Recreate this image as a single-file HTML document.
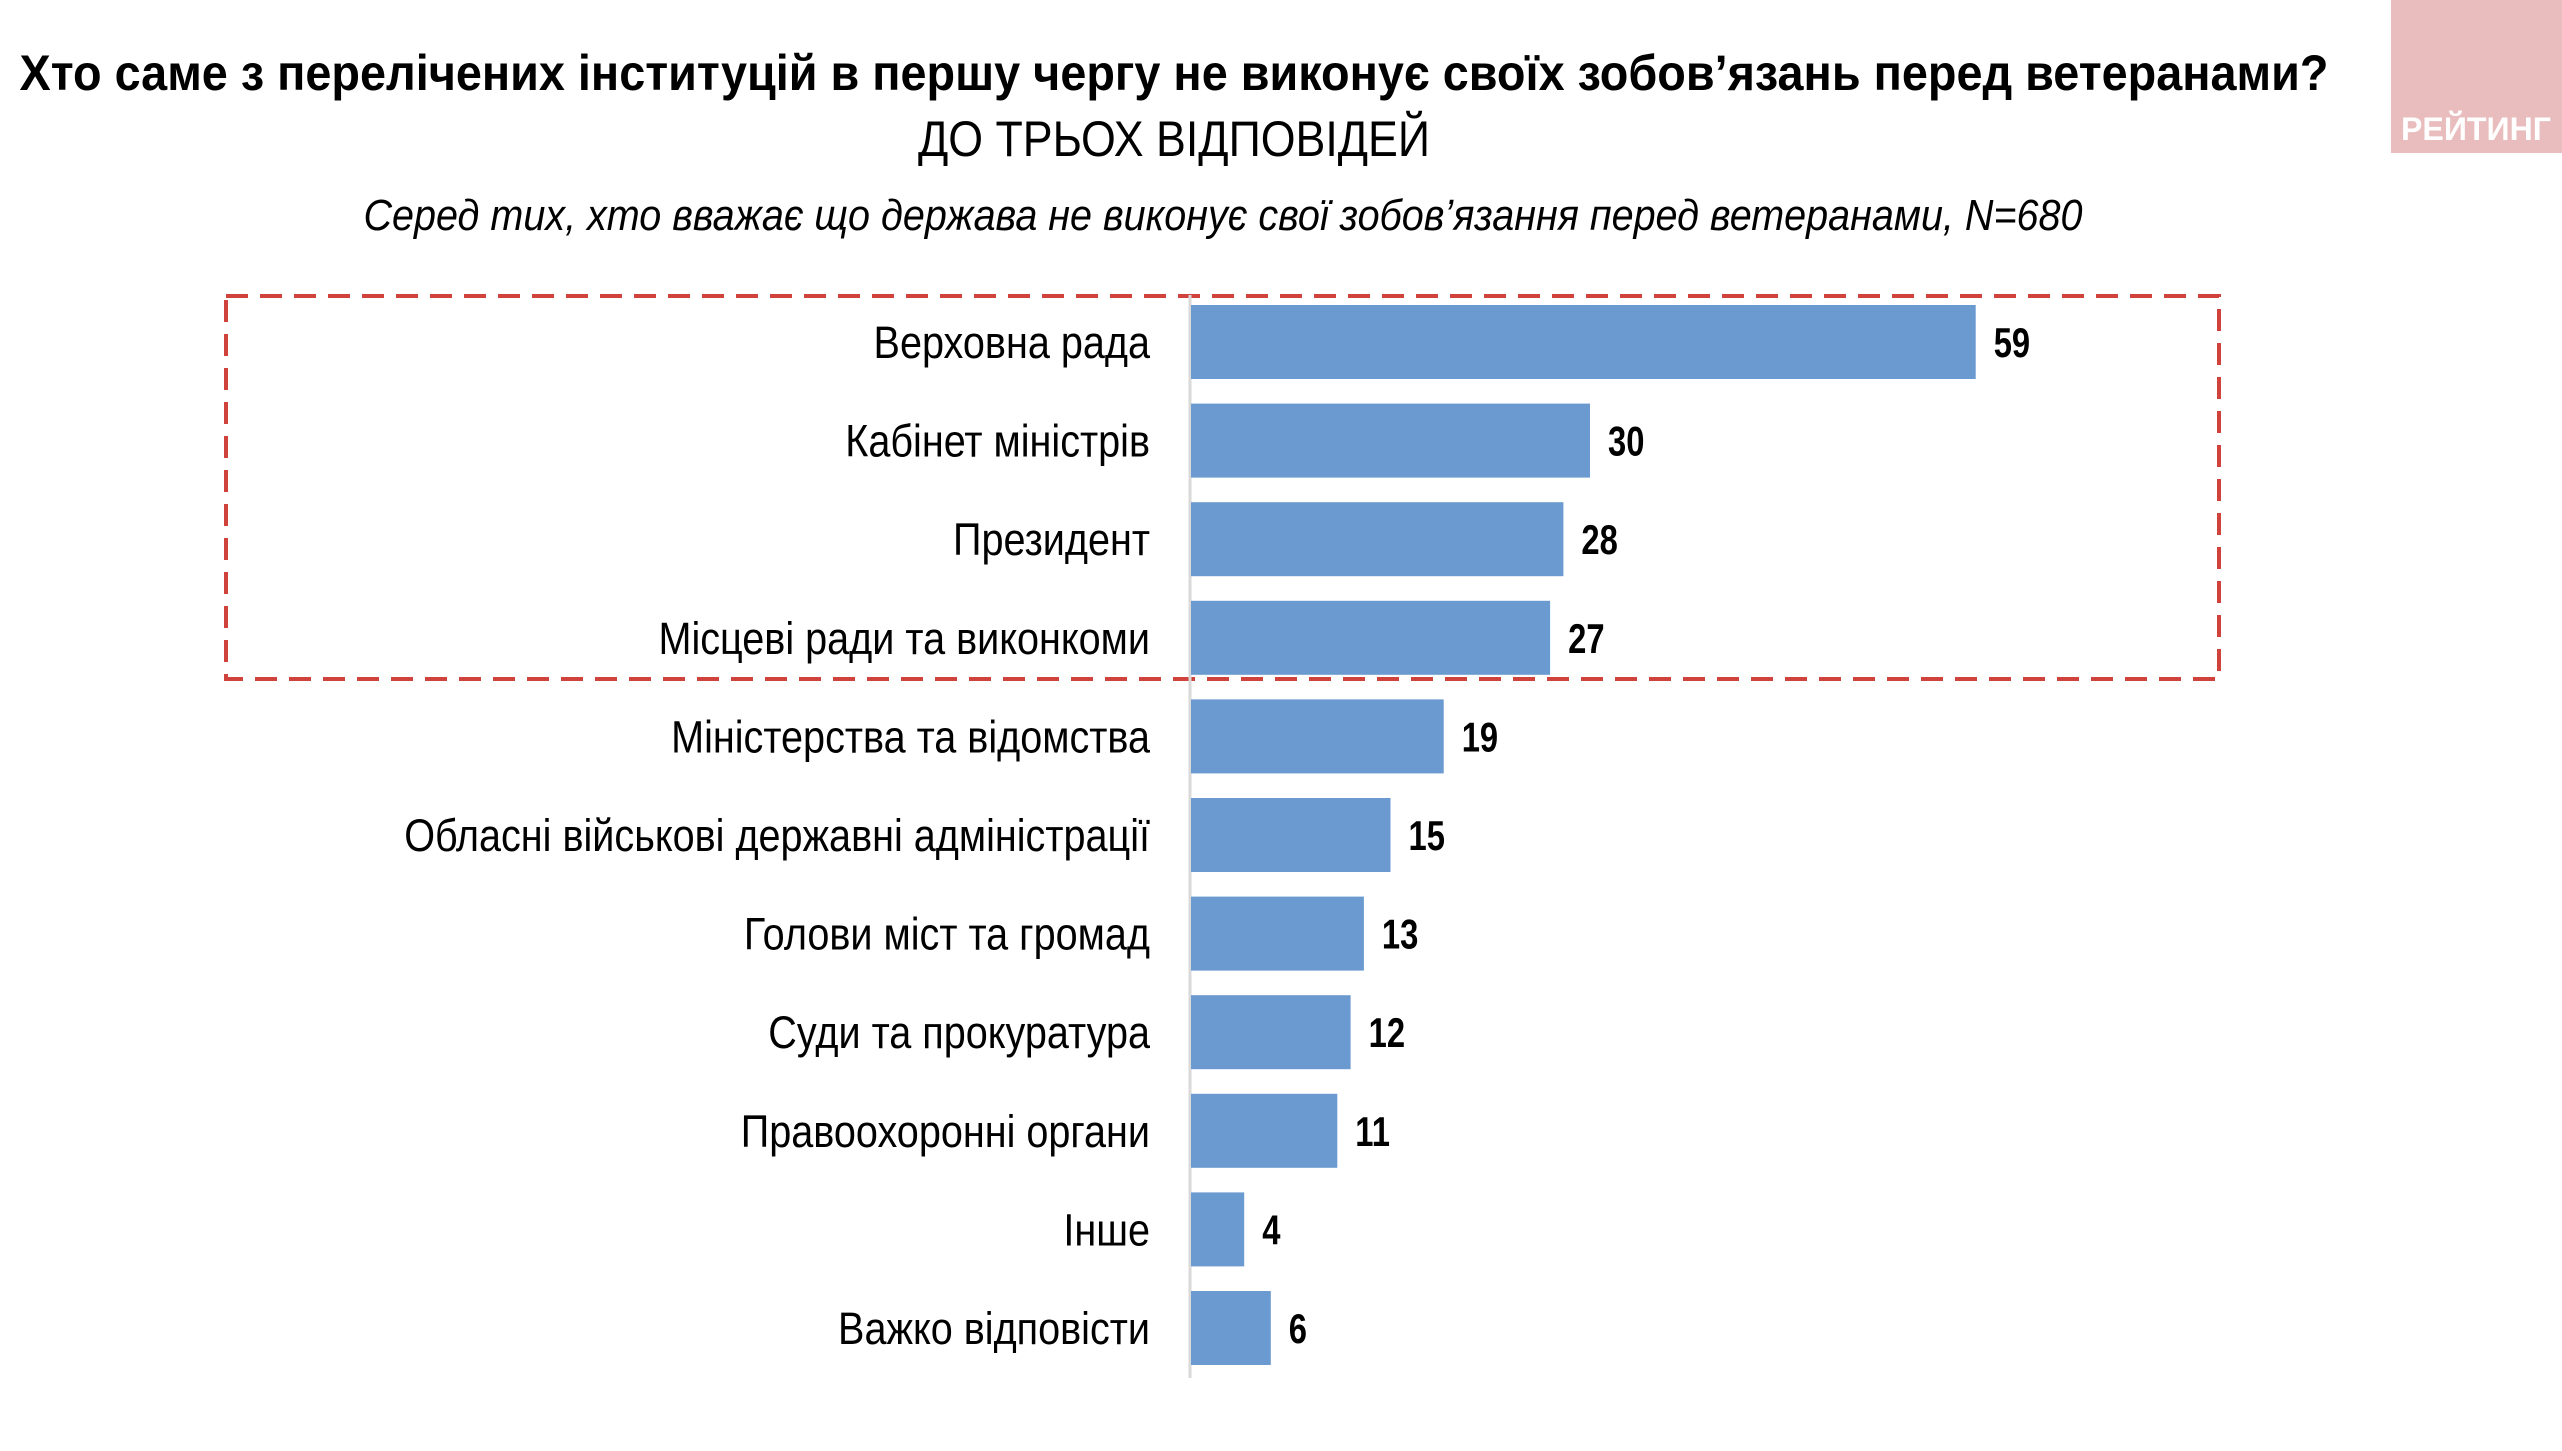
<!DOCTYPE html>
<html><head><meta charset="utf-8"><style>
html,body{margin:0;padding:0;background:#fff;}
svg{display:block;}
text{font-family:"Liberation Sans Narrow","Liberation Sans","Noto Sans CJK SC",sans-serif;}
</style></head><body>
<svg id="chart" width="2562" height="1451" viewBox="0 0 2562 1451" xmlns="http://www.w3.org/2000/svg">
<rect x="2391" y="0" width="171" height="153" fill="#e9bdbd"/>
<text x="2476" y="140" text-anchor="middle" font-size="32" font-weight="bold" fill="#fff" textLength="150" lengthAdjust="spacingAndGlyphs">РЕЙТИНГ</text>
<text x="1174" y="90" text-anchor="middle" font-size="50" font-weight="bold" textLength="2309" lengthAdjust="spacingAndGlyphs">Хто саме з перелічених інституцій в першу чергу не виконує своїх зобов’язань перед ветеранами?</text>
<text x="1174" y="156" text-anchor="middle" font-size="50" textLength="512" lengthAdjust="spacingAndGlyphs">ДО ТРЬОХ ВІДПОВІДЕЙ</text>
<text x="1223" y="230" text-anchor="middle" font-size="44" font-style="italic" textLength="1719" lengthAdjust="spacingAndGlyphs">Серед тих, хто вважає що держава не виконує свої зобов’язання перед ветеранами, N=680</text>
<rect x="226" y="296" width="1993" height="383" fill="none" stroke="#d0423c" stroke-width="4" stroke-dasharray="22,12"/>
<line x1="1190" y1="295" x2="1190" y2="1378" stroke="#d9d9d9" stroke-width="3"/>
<g id="bars"></g>
</svg>
<script>
const categories = ["Верховна рада","Кабінет міністрів","Президент","Місцеві ради та виконкоми","Міністерства та відомства","Обласні військові державні адміністрації","Голови міст та громад","Суди та прокуратура","Правоохоронні органи","Інше","Важко відповісти"];
const values = [59,30,28,27,19,15,13,12,11,4,6];
const labels = ["59","30","28","27","19","15","13","12","11","4","6"];

const x0 = 1191, unit = 13.3, y0 = 305, pitch = 98.6, bh = 74;
const xScale = v => x0 + v * unit;
const yScale = i => y0 + i * pitch;
const NS = "http://www.w3.org/2000/svg";
const g = document.getElementById("bars");
categories.forEach((c, i) => {
  const y = yScale(i);
  const r = document.createElementNS(NS, "rect");
  r.setAttribute("x", x0);
  r.setAttribute("y", y);
  r.setAttribute("width", xScale(values[i]) - x0);
  r.setAttribute("height", bh);
  r.setAttribute("fill", "#6a9acf");
  
  
  g.appendChild(r);
  const t = document.createElementNS(NS, "text");
  t.setAttribute("transform", "translate(1150," + (y + bh / 2 + 16) + ") scale(0.88,1)");
  t.setAttribute("text-anchor", "end");
  t.setAttribute("font-size", "45");
  t.textContent = c;
  
  
  g.appendChild(t);
  const v = document.createElementNS(NS, "text");
  v.setAttribute("transform", "translate(" + (xScale(values[i]) + 18) + "," + (y + bh / 2 + 15) + ") scale(0.78,1)");
  v.setAttribute("font-size", "42");
  v.setAttribute("font-weight", "bold");
  v.textContent = labels[i];
  
  
  g.appendChild(v);
});
</script>
</body></html>
